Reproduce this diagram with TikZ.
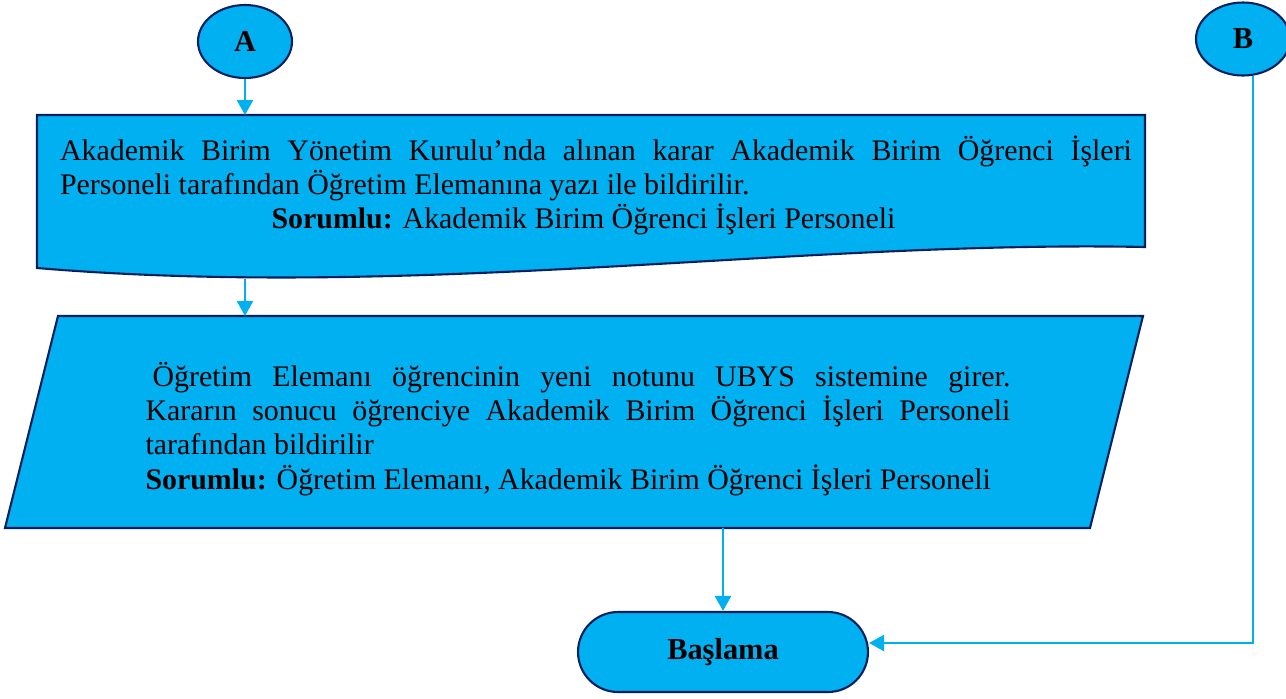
\documentclass[tikz,border=0pt]{standalone}
\usepackage{fontspec}
\setmainfont{Liberation Serif}
\usepackage{xcolor}
\usepackage{tikz}
\usetikzlibrary{arrows.meta, positioning, shapes.geometric}

\definecolor{boxblue}{HTML}{00B0F0}
\definecolor{boxline}{HTML}{002060}

\begin{document}
\begin{tikzpicture}[x=0.02cm, y=-0.02cm, font=\fontsize{17}{19.4}\selectfont]
		\tikzstyle{blockfill} = [draw=boxline, fill=boxblue, line width=1.2pt]
		\tikzstyle{circ} = [blockfill, ellipse, minimum width=1.88cm, minimum height=1.46cm, font=\fontsize{17.3}{19.6}\selectfont\bfseries]
		\tikzstyle{terminal} = [blockfill, rectangle, rounded corners=0.8cm, minimum width=5.8cm, minimum height=1.6cm, font=\fontsize{17.3}{19.6}\selectfont\bfseries]
		\tikzstyle{arrow} = [line width=1.3pt, draw=boxblue, -{Triangle[width=0.32cm, length=0.3cm]}]

		\useasboundingbox (0,0) rectangle (1286,698);

		% document box and parallelogram
		\path[blockfill] (37,115) -- (1145,115) -- (1145,247) .. controls (800,240) and (420,300) .. (37,268) -- cycle;
		\path[blockfill] (58,316) -- (1143,316) -- (1090,528) -- (5,528) -- cycle;

		\node[circ]		at (245,41.5)	(A)		{A};
		\node[circ]		at (1243,39)	(B)		{B};

		\node[text width=21.44cm, align=justify, inner sep=0pt] at (596,185) (doctext)
			{Akademik Birim Yönetim Kurulu’nda alınan karar Akademik Birim Öğrenci İşleri\linebreak
			 Personeli tarafından Öğretim Elemanına yazı ile bildirilir.\\
			 \makebox[\hsize][c]{\textbf{Sorumlu:} Akademik Birim Öğrenci İşleri Personeli\hspace*{0.5cm}}};

		\node[text width=17.3cm, align=justify, inner sep=0pt] at (578,429) (paratext)
			{\hspace*{0.14cm}Öğretim Elemanı öğrencinin yeni notunu UBYS sistemine girer.\linebreak
			 Kararın sonucu öğrenciye Akademik Birim Öğrenci İşleri Personeli\linebreak
			 tarafından bildirilir\\
			 \mbox{\textbf{Sorumlu:} Öğretim Elemanı, Akademik Birim Öğrenci İşleri Personeli}};

		\node[terminal]	at (723,652)	(term)	{Başlama};

		\coordinate (docin)		at (245,115);
		\coordinate (docout)	at (245,279);
		\coordinate (parain)	at (245,316);
		\coordinate (paraout)	at (723,528);

		\draw [arrow] (A) -- (docin);
		\draw [arrow] (docout) -- (parain);
		\draw [arrow] (paraout) -- (term);
		\draw [arrow] (B.-75) |- ([yshift=0.18cm]term.east);
	\end{tikzpicture}
\end{document}
